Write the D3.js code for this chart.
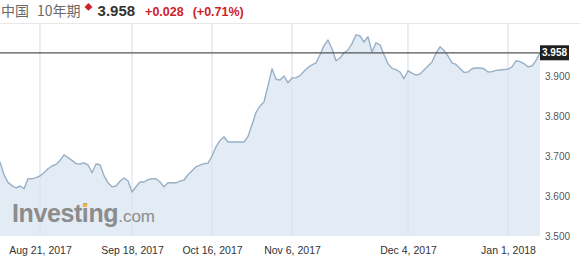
<!DOCTYPE html>
<html>
<head>
<meta charset="utf-8">
<script src="https://cdn.jsdelivr.net/npm/d3@7"></script>
<style>
  body { margin: 0; background: #fff; }
  svg { display: block; font-family: "Liberation Sans", Arial, "Noto Sans CJK SC", sans-serif; }
</style>
</head>
<body>
<div id="chart"></div>
<script>
// daily closing yields, trading-day index 0..135
const yields = [
  3.685, 3.653, 3.634, 3.626, 3.620, 3.625, 3.618, 3.643, 3.643, 3.646,
  3.650, 3.658, 3.668, 3.675, 3.679, 3.689, 3.703, 3.696, 3.689, 3.681,
  3.680, 3.683, 3.678, 3.658, 3.680, 3.678, 3.651, 3.633, 3.623, 3.625,
  3.637, 3.645, 3.638, 3.610, 3.623, 3.635, 3.635, 3.641, 3.643, 3.643,
  3.635, 3.623, 3.633, 3.633, 3.633, 3.637, 3.640, 3.653, 3.663, 3.673,
  3.677, 3.681, 3.682, 3.700, 3.723, 3.739, 3.748, 3.735, 3.735, 3.735,
  3.735, 3.735, 3.749, 3.778, 3.809, 3.825, 3.835, 3.876, 3.918, 3.892,
  3.890, 3.900, 3.883, 3.895, 3.896, 3.901, 3.912, 3.921, 3.928, 3.933,
  3.953, 3.976, 3.990, 3.968, 3.938, 3.945, 3.958, 3.965, 3.981, 4.003,
  4.000, 3.985, 3.998, 3.960, 3.983, 3.978, 3.953, 3.931, 3.919, 3.916,
  3.910, 3.893, 3.913, 3.907, 3.902, 3.905, 3.915, 3.925, 3.935, 3.957,
  3.973, 3.964, 3.950, 3.933, 3.929, 3.919, 3.909, 3.910, 3.918, 3.920,
  3.920, 3.918, 3.910, 3.911, 3.914, 3.915, 3.916, 3.917, 3.923, 3.938,
  3.936, 3.931, 3.923, 3.925, 3.939, 3.958
]

const dateTickIdx = [10, 33, 53, 73, 102, 127]
const dateTickLabels = ['Aug 21, 2017', 'Sep 18, 2017', 'Oct 16, 2017', 'Nov 6, 2017', 'Dec 4, 2017', 'Jan 1, 2018']
const yTicks = [3.5, 3.6, 3.7, 3.8, 3.9]

const lastValue = 3.958
const change = '+0.028'
const changePct = '(+0.71%)'

const width = 580, height = 260
const plot = { left: 0, right: 540, top: 24, bottom: 236 }

const svg = d3.select('#chart')
  .append('svg')
    .attr('width', width)
    .attr('height', height)

const x = d3.scaleLinear()
  .domain([0, yields.length - 1])
  .range([plot.left, plot.right])

const y = d3.scaleLinear()
  .domain([3.5, 4.03])
  .range([plot.bottom, plot.top])

// header
const head = svg.append('text')
  .attr('x', 1)
  .attr('y', 16)
  .style('font-size', '14px')
head.append('tspan')
  .attr('fill', '#6a6a6a')
  .style('font-family', '"Noto Sans CJK SC", sans-serif')
  .text('中国')
head.append('tspan')
  .attr('fill', '#6a6a6a')
  .attr('dx', 8)
  .style('font-family', '"Noto Sans CJK SC", sans-serif')
  .text('10年期')
head.append('tspan')
  .attr('fill', '#d0212a')
  .attr('dx', 4)
  .attr('dy', -6)
  .style('font-size', '8px')
  .text('◆')
head.append('tspan')
  .attr('fill', '#333')
  .attr('dx', 5)
  .attr('dy', 6)
  .style('font-weight', 'bold')
  .style('font-size', '15px')
  .text(lastValue.toFixed(3))
head.append('tspan')
  .attr('fill', '#d0212a')
  .attr('dx', 10)
  .style('font-weight', 'bold')
  .style('font-size', '12.5px')
  .text(change)
head.append('tspan')
  .attr('fill', '#d0212a')
  .attr('dx', 9)
  .style('font-weight', 'bold')
  .style('font-size', '12.5px')
  .text(changePct)

svg.append('line')
  .attr('x1', 0).attr('x2', width)
  .attr('y1', plot.top - 0.5).attr('y2', plot.top - 0.5)
  .attr('stroke', '#e8e8e8')

// vertical grid
svg.append('g')
  .selectAll('line')
  .data(dateTickIdx)
  .join('line')
    .attr('x1', d => x(d)).attr('x2', d => x(d))
    .attr('y1', plot.top).attr('y2', plot.bottom)
    .attr('stroke', '#eef1f4')

// area + line
const area = d3.area()
  .x((d, i) => x(i))
  .y0(plot.bottom)
  .y1(d => y(d))

const line = d3.line()
  .x((d, i) => x(i))
  .y(d => y(d))

svg.append('path')
  .datum(yields)
  .attr('d', area)
  .attr('fill', '#e3ebf4')

svg.append('g')
  .selectAll('line')
  .data(dateTickIdx)
  .join('line')
    .attr('x1', d => x(d)).attr('x2', d => x(d))
    .attr('y1', plot.top).attr('y2', plot.bottom)
    .attr('stroke', '#dae3ed')

svg.append('path')
  .datum(yields)
  .attr('d', line)
  .attr('fill', 'none')
  .attr('stroke', '#97b0c6')
  .attr('stroke-width', 1.4)
  .attr('stroke-linejoin', 'round')

// watermark
const wm = svg.append('text')
  .attr('x', 12)
  .attr('y', 222)
  .attr('fill', '#8c8c8c')
wm.append('tspan')
  .style('font-size', '25px')
  .style('font-weight', 'bold')
  .style('letter-spacing', '-0.4px')
  .text('Investing')
wm.append('tspan')
  .style('font-size', '17px')
  .text('.com')

// orange dot on the "i"
const iPos = wm.node().getStartPositionOfChar(6)
const iEnd = wm.node().getEndPositionOfChar(6)
svg.append('rect')
  .attr('x', iPos.x + 1)
  .attr('y', 222 - 18.5)
  .attr('width', Math.max(2.5, iEnd.x - iPos.x - 2.5))
  .attr('height', 3.5)
  .attr('fill', '#f2b13f')

// y axis
const yAxis = d3.axisRight(y)
  .tickValues(yTicks)
  .tickFormat(d3.format('.3f'))
  .tickSize(0)
  .tickPadding(5)

svg.append('g')
  .attr('transform', `translate(${plot.right}, 0)`)
  .call(yAxis)
  .call(g => g.select('.domain').remove())
  .call(g => g.selectAll('text')
    .attr('fill', '#555')
    .style('font-size', '10px')
    .style('font-family', '"Liberation Sans", Arial, sans-serif'))

// x axis
const xAxis = d3.axisBottom(x)
  .tickValues(dateTickIdx)
  .tickFormat((d, i) => dateTickLabels[i])
  .tickSize(0)
  .tickPadding(10)

svg.append('g')
  .attr('transform', `translate(0, ${plot.bottom + 1})`)
  .call(xAxis)
  .call(g => g.select('.domain').remove())
  .call(g => g.selectAll('text')
    .attr('fill', '#333')
    .style('font-size', '10.5px')
    .style('font-family', '"Liberation Sans", Arial, sans-serif'))

// current value line + tag
svg.append('line')
  .attr('x1', plot.left).attr('x2', plot.right)
  .attr('y1', y(lastValue)).attr('y2', y(lastValue))
  .attr('stroke', '#555')
  .attr('stroke-width', 1.3)

svg.append('rect')
  .attr('x', plot.right)
  .attr('y', y(lastValue) - 7.5)
  .attr('width', 29)
  .attr('height', 15)
  .attr('fill', '#1f1f1f')

svg.append('text')
  .attr('x', plot.right + 14.5)
  .attr('y', y(lastValue) + 3.5)
  .attr('text-anchor', 'middle')
  .attr('fill', '#fff')
  .style('font-size', '10px')
  .style('font-weight', 'bold')
  .text(lastValue.toFixed(3))
</script>
</body>
</html>
